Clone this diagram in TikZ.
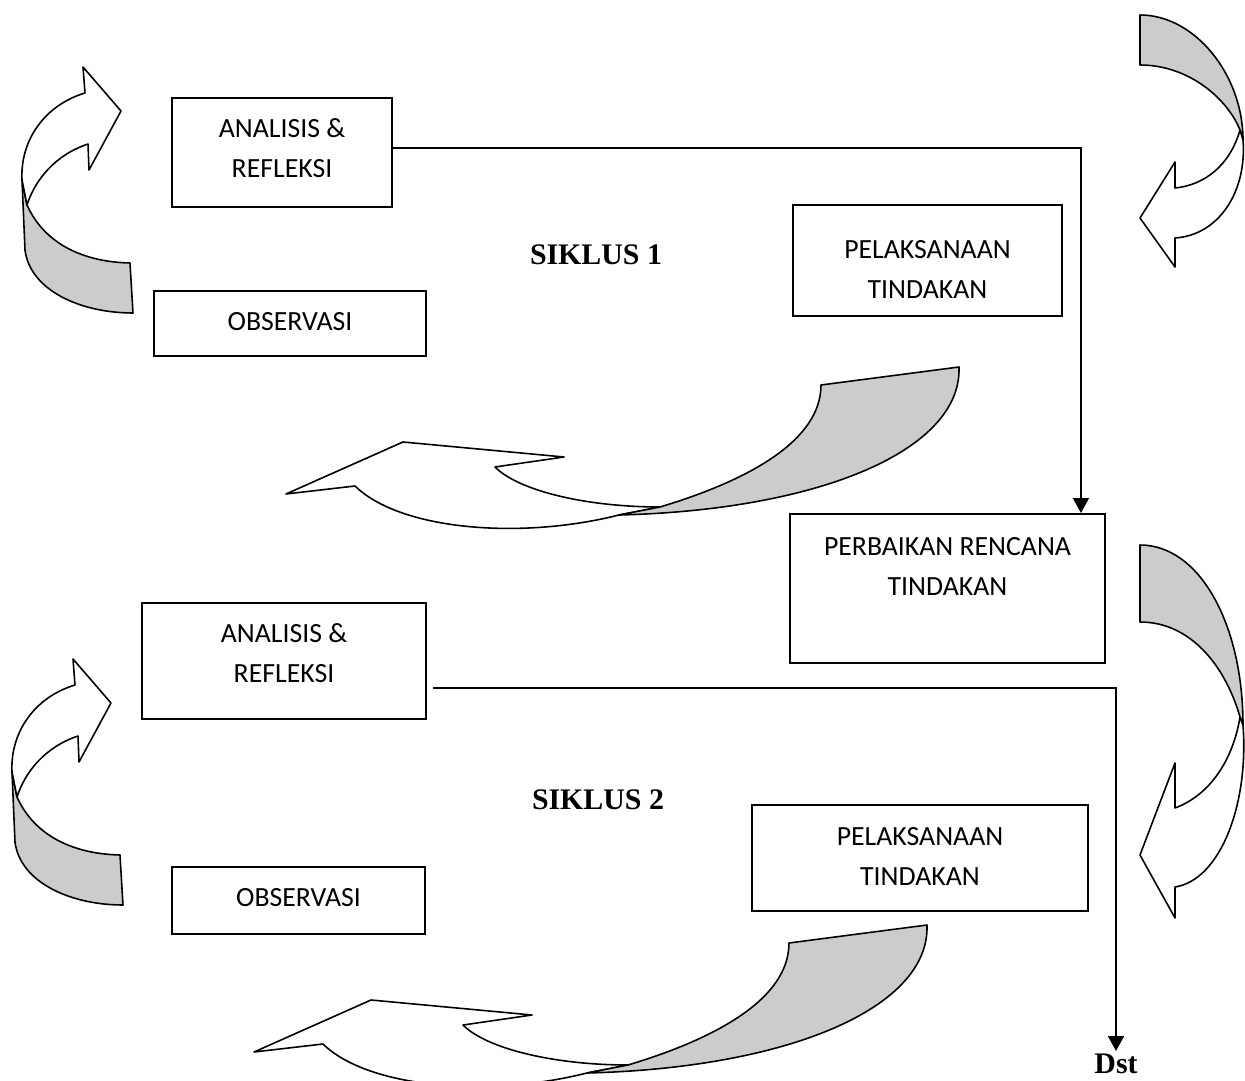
\documentclass[tikz,border=0pt]{standalone}
\usepackage{fontspec}
\setmainfont{Liberation Serif}
\newfontfamily\boxfont{Carlito}
\usetikzlibrary{arrows.meta}

\definecolor{foldgray}{gray}{0.8}
% text of a box, raised by #1 from the middle
\newcommand{\boxtxt}[2]{\raisebox{#1}[0pt][0pt]{\begin{tabular}{@{}c@{}}#2\end{tabular}}}

\tikzset{
  box/.style={draw, line width=1.1pt, inner sep=0pt,
    font={\boxfont\fontsize{15.8}{22.7}\selectfont}},
  ribbon/.style={draw, line width=0.9pt, fill=white, line join=round},
  fold/.style={draw, line width=0.9pt, fill=foldgray, line join=round},
  flow/.style={line width=0.9pt, -{Triangle[width=0.32cm,length=0.3cm]}},
  siklus/.style={font={\bfseries\fontsize{17}{20}\selectfont}}
}

\begin{document}
\begin{tikzpicture}[x=0.02cm,y=-0.02cm]
        \useasboundingbox (0,0) rectangle (1245,1081);
        \clip (0,0) rectangle (1245,1081);

        % boxes
        \node[box, minimum width=4.4cm, minimum height=2.18cm] (ana1) at (282,152.5) {\boxtxt{-2pt}{ANALISIS \&\\REFLEKSI}};
        \node[box, minimum width=5.44cm, minimum height=1.3cm] (obs1) at (290,323.5) {\boxtxt{-3.1pt}{OBSERVASI}};
        \node[box, minimum width=5.38cm, minimum height=2.22cm] (pel1) at (927.5,260.5) {\boxtxt{-9.3pt}{PELAKSANAAN\\TINDAKAN}};
        \node[box, minimum width=6.3cm, minimum height=2.98cm] (perb) at (947.5,588.5) {\boxtxt{8.3pt}{PERBAIKAN RENCANA\\TINDAKAN}};
        \node[box, minimum width=5.68cm, minimum height=2.32cm] (ana2) at (284,661) {\boxtxt{0pt}{ANALISIS \&\\REFLEKSI}};
        \node[box, minimum width=6.72cm, minimum height=2.12cm] (pel2) at (920,858) {\boxtxt{-3.4pt}{PELAKSANAAN\\TINDAKAN}};
        \node[box, minimum width=5.06cm, minimum height=1.34cm] (obs2) at (298.5,900.5) {\boxtxt{-2.5pt}{OBSERVASI}};

        \node[siklus] (sik1) at (596,255) {SIKLUS 1};
        \node[siklus] (sik2) at (598,800) {SIKLUS 2};
        \node[siklus, anchor=north, inner sep=1.5pt] (dst) at (1116,1051) {Dst};

        % connectors
        \draw[flow] ([yshift=0.09cm]ana1.east) -| ([xshift=-0.5cm]perb.north east);
        \draw[flow] ([xshift=0.12cm,yshift=-0.54cm]ana2.east) -| (dst.north);

        % left arrows
        \foreach \dx/\dy in {0/0,-10/592}{
          \begin{scope}[shift={(\dx,\dy)}]
            \draw[fold] (22,180) -- (25,250) .. controls (30,290) and (80,313) .. (133,313)
              -- (130,263) .. controls (85,262) and (45,245) .. (27,205) -- cycle;
            \draw[ribbon] (121,111) -- (83,67) -- (85,93) .. controls (45,105) and (20,140) .. (22,180)
              -- (27,205) .. controls (35,180) and (55,155) .. (88,144) -- (89,170) -- cycle;
          \end{scope}
        }

        % middle arrows
        \foreach \dx/\dy in {0/0,-32/558}{
          \begin{scope}[shift={(\dx,\dy)}]
            \draw[ribbon] (286,494) -- (403,442) -- (564,457) -- (495,467)
              .. controls (520,492) and (590,507) .. (660,507)
              -- (619,515) .. controls (520,540) and (400,530) .. (355,486) -- cycle;
            \draw[fold] (660,507) .. controls (750,480) and (821,440) .. (821,385)
              -- (959,367) .. controls (962,450) and (820,510) .. (619,515) -- cycle;
          \end{scope}
        }

        % right arrows
        \draw[fold] (1140,15) .. controls (1195,15) and (1243,75) .. (1243,140)
          -- (1240,130) .. controls (1228,100) and (1190,65) .. (1140,65) -- cycle;
        \draw[ribbon] (1140,218) -- (1175,162) -- (1175,188) .. controls (1205,185) and (1230,165) .. (1240,130)
          -- (1243,140) .. controls (1247,190) and (1220,235) .. (1175,238) -- (1175,267) -- cycle;

        \draw[fold] (1140,545) .. controls (1200,545) and (1243,625) .. (1243,725)
          -- (1240,717) .. controls (1225,665) and (1190,622) .. (1140,622) -- cycle;
        \draw[ribbon] (1140,855) -- (1175,763) -- (1175,808) .. controls (1210,795) and (1233,760) .. (1240,717)
          -- (1243,725) .. controls (1249,805) and (1220,880) .. (1175,887) -- (1175,918) -- cycle;
      \end{tikzpicture}
\end{document}
